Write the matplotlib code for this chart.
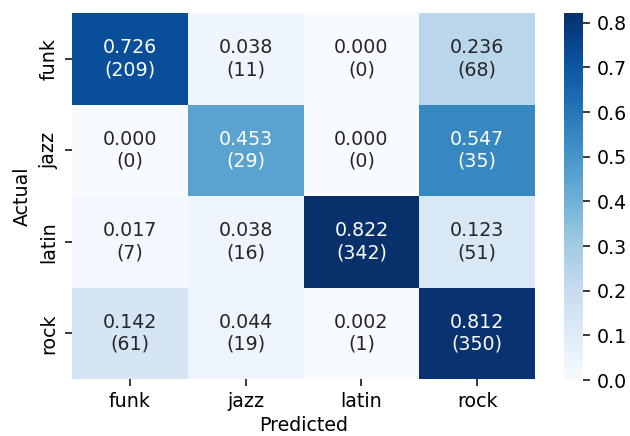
import numpy as np
import seaborn as sns
from matplotlib import pyplot as plt
from matplotlib.ticker import MultipleLocator

labels = ["funk", "jazz", "latin", "rock"]
rates = np.array([
    [0.726, 0.038, 0.000, 0.236],
    [0.000, 0.453, 0.000, 0.547],
    [0.017, 0.038, 0.822, 0.123],
    [0.142, 0.044, 0.002, 0.812],
])
counts = np.array([
    [209, 11, 0, 68],
    [0, 29, 0, 35],
    [7, 16, 342, 51],
    [61, 19, 1, 350],
])

annot = [[f"{rates[i, j]:.3f}\n({counts[i, j]})" for j in range(4)] for i in range(4)]

W, H = 630, 436
DPI = 136.5
fig = plt.figure(figsize=(W / DPI, H / DPI), dpi=DPI)
ax = fig.add_axes([72 / W, 1 - 379 / H, 463 / W, 366 / H])
cax = fig.add_axes([564 / W, 1 - 380 / H, 19 / W, 367 / H])
sns.heatmap(rates, annot=annot, fmt="", cmap="Blues", ax=ax, cbar_ax=cax,
            xticklabels=labels, yticklabels=labels)
cax.yaxis.set_major_locator(MultipleLocator(0.1))
cax.yaxis.set_major_formatter(plt.FormatStrFormatter("%.1f"))
ax.set_xlabel("Predicted", labelpad=2.5)
ax.set_ylabel("Actual")
fig.savefig("out.png", dpi=DPI)
